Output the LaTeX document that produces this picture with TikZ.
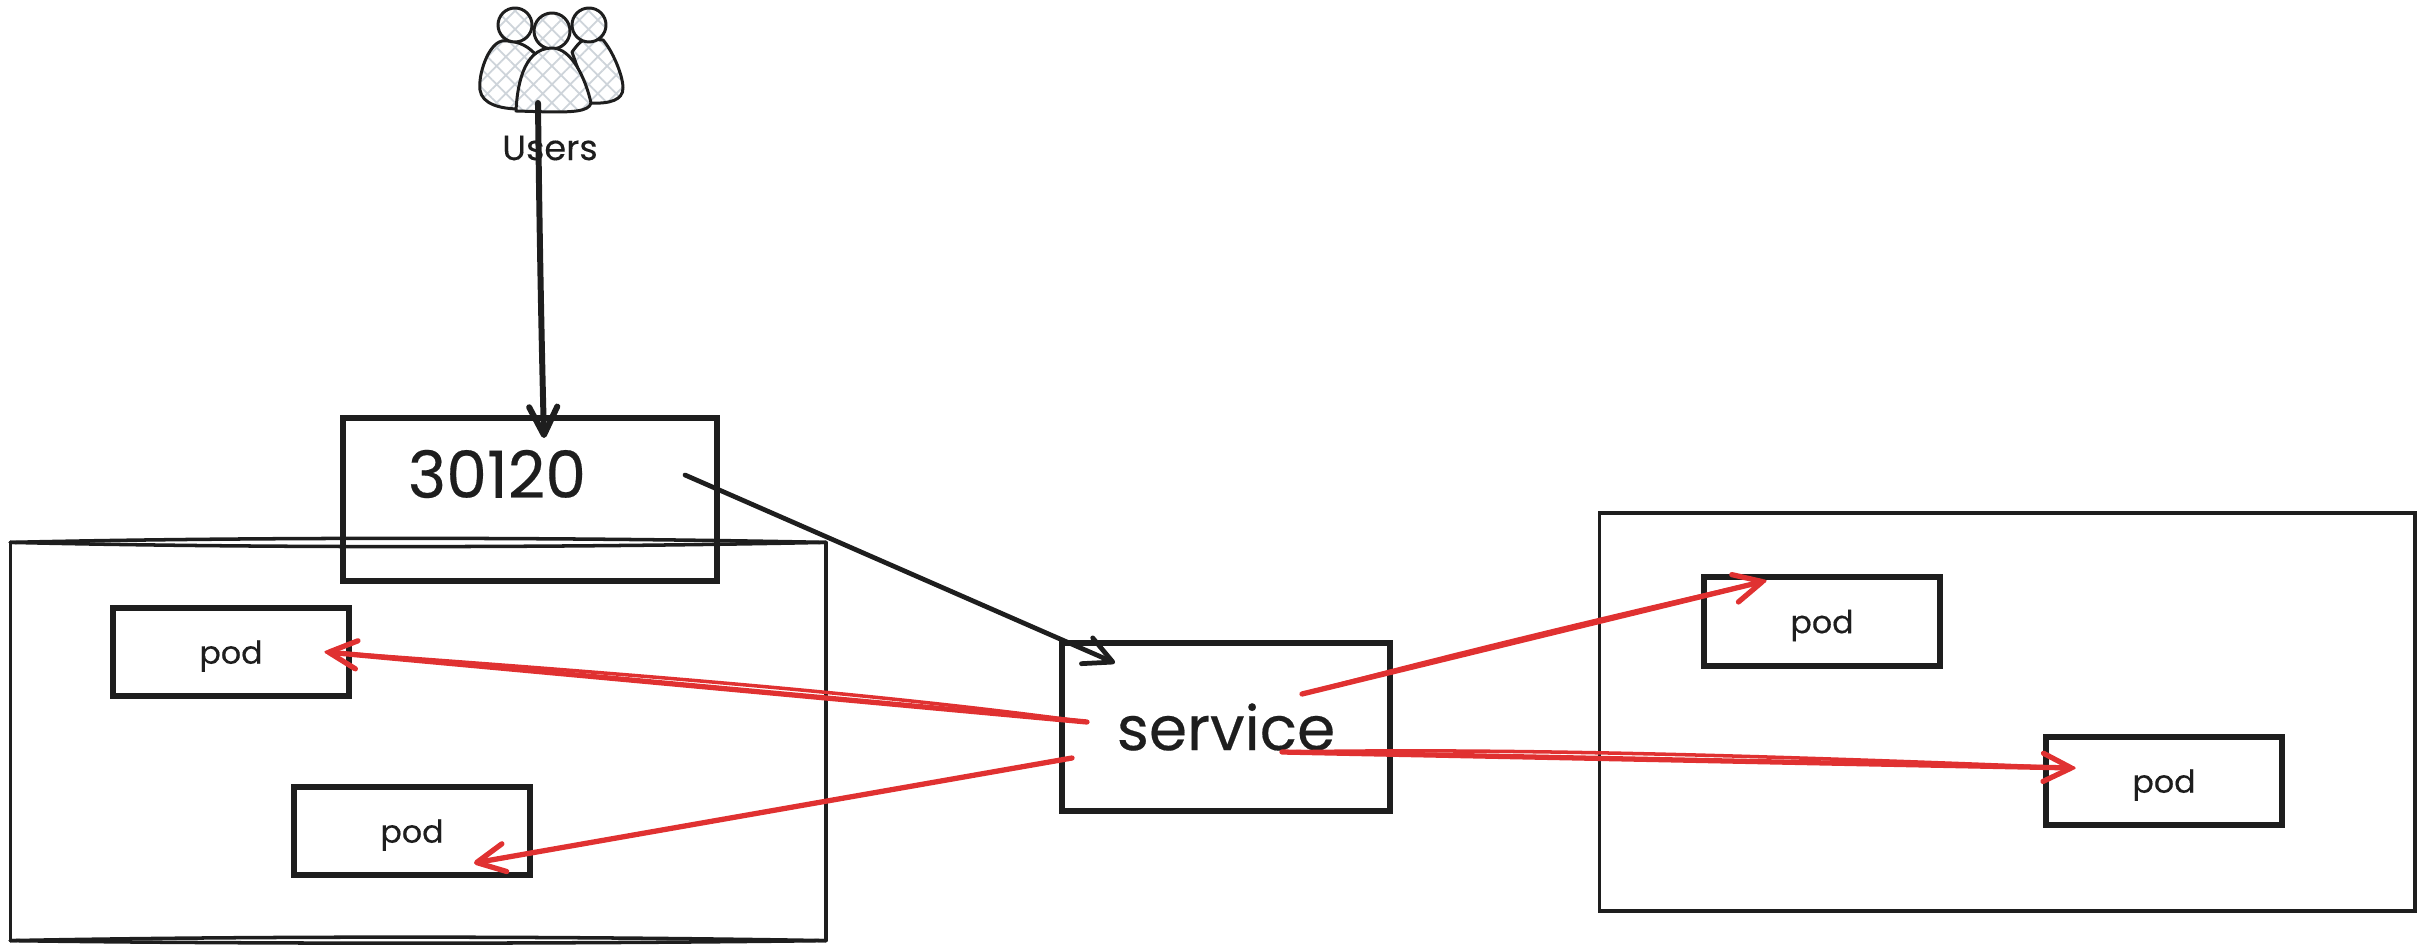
\documentclass[tikz,border=0pt]{standalone}
\usepackage{fontspec}
\setmainfont[FakeBold=.3]{Poppins}
\usetikzlibrary{arrows.meta, patterns.meta}
\definecolor{ink}{HTML}{1E1E1E}
\definecolor{redline}{HTML}{E03131}
\definecolor{hatchgray}{HTML}{CED4DA}
\tikzset{
  podbox/.style={draw=ink, line width=1.7pt, minimum width=2.36cm, minimum height=.88cm, inner sep=0pt, outer sep=0pt, font=\fontsize{9}{10}\selectfont, text=ink, text depth=0pt},
  hostbox/.style={draw=ink, line width=1pt, minimum width=8.15cm, minimum height=3.98cm, inner sep=0pt, outer sep=0pt},
  hostedge/.style={draw=ink, line width=1pt, line cap=round},
  usershape/.style={draw=ink, line width=.85pt, line join=round, preaction={fill=white}, pattern={Hatch[angle=45, distance=.13cm, line width=.5pt]}, pattern color=hatchgray},
  blackarrow/.style={draw=ink, line width=1.35pt, line cap=round, -{Straight Barb[length=8pt, width=8pt, round]}},
  redarrow/.style={draw=redline, line width=1.5pt, line cap=round, -{Straight Barb[length=8pt, width=8pt, round]}},
  redstroke/.style={draw=redline, line width=1pt, line cap=round}
}
\begin{document}
\begin{tikzpicture}[x=.01cm, y=-.01cm]
\useasboundingbox (0,0) rectangle (2424,949);

\draw[usershape] (502,41) .. controls (488,44) and (478,75) .. (480,90) .. controls (482,104) and (500,109) .. (520,109) -- (537,56) .. controls (530,48) and (520,40) .. cycle;
\draw[usershape] (572,52) .. controls (578,44) and (582,39) .. (588,39) -- (603,40) .. controls (612,50) and (623,75) .. (623,88) .. controls (623,100) and (610,104) .. (590,103) -- cycle;
\draw[usershape] (515,25) circle (17);
\draw[usershape] (589,25) circle (17);
\draw[usershape] (552,31) circle (18);
\draw[usershape] (516,111) .. controls (517,90) and (522,48) .. (552,48) .. controls (572,48) and (586,80) .. (591,103) .. controls (589,112) and (570,112) .. (550,112) -- cycle;
\node[font=\fontsize{10}{11}\selectfont, text=ink, inner sep=0pt] (users) at (550,148) {Users};

\node[hostbox, draw=none] (hostA) at (418,741.5) {};
\draw[hostedge] (hostA.north west) .. controls (250,537) and (550,537) .. (hostA.north east);
\draw[hostedge] (hostA.north west) .. controls (250,548) and (550,548) .. (hostA.north east);
\draw[hostedge] (hostA.south west) .. controls (250,936) and (550,936) .. (hostA.south east);
\draw[hostedge] (hostA.south west) .. controls (250,944) and (550,944) .. (hostA.south east);
\draw[hostedge] (hostA.north west) -- (hostA.south west);
\draw[hostedge] (hostA.north east) -- (hostA.south east);
\node[hostbox] (hostB) at (2007,712) {};

\node[podbox, minimum width=3.74cm, minimum height=1.63cm] (port) at (530,499.5) {};
\node[text=ink, font=\fontsize{18.5}{20}\selectfont, inner sep=0pt] (portlabel) at (497,474) {30120};
\node[podbox, minimum width=3.28cm, minimum height=1.67cm, font=\fontsize{17.5}{20}\selectfont, text depth=] (service) at (1226,727) {service};

\node[podbox] (podA) at (231,652) {pod};
\node[podbox] (podB) at (412,831) {pod};
\node[podbox] (podC) at (1822,621.5) {pod};
\node[podbox] (podD) at (2164,781) {pod};

\coordinate (usersfoot) at (538,103);
\coordinate (portin) at (544,438);
\coordinate (portout) at (685,475);
\coordinate (servicein) at (1115,663);
\coordinate (outA) at (1087,722);
\coordinate (outB) at (1072,758);
\coordinate (outC) at (1302,694);
\coordinate (outD) at (1282,752);
\coordinate (inA) at (326,652);
\coordinate (inB) at (474,863);
\coordinate (inC) at (1765,581);
\coordinate (inD) at (2074,768);

\draw[blackarrow, line width=1.7pt] (usersfoot) .. controls (539,200) and (541,320) .. (portin);
\draw[blackarrow] (portout) -- (servicein);

\draw[redarrow] (outA) -- (inA);
\draw[redstroke] (outA) .. controls (900,697) and (700,679) .. (inA);
\draw[redarrow] (outB) -- (inB);
\draw[redarrow] (outC) -- (inC);
\draw[redstroke] (outC) .. controls (1450,655) and (1600,618.5) .. (inC);
\draw[redarrow] (outD) -- (inD);
\draw[redstroke] (outD) .. controls (1500,748) and (1750,755) .. (inD);
\end{tikzpicture}
\end{document}
